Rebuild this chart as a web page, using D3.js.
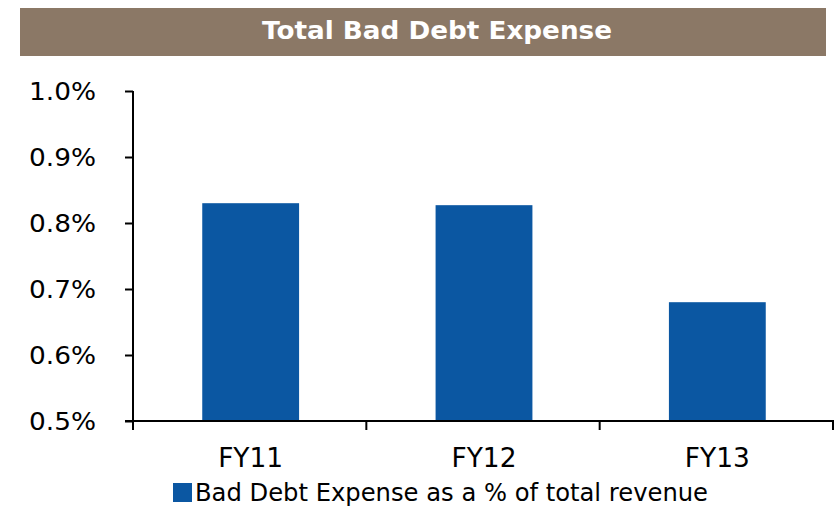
<!DOCTYPE html>
<html>
<head>
<meta charset="utf-8">
<script src="https://cdn.jsdelivr.net/npm/d3@7"></script>
<style>
  html, body { margin: 0; padding: 0; background: #fff; }
  svg { display: block; font-family: "DejaVu Sans", Verdana, sans-serif; }
</style>
</head>
<body>
<svg id="chart" width="835" height="506"></svg>
<script>
// Bad debt expense as a share of total revenue, by fiscal year
const categories = ["FY11", "FY12", "FY13"];
const values = [0.830, 0.827, 0.680];
const yTicks = [0.5, 0.6, 0.7, 0.8, 0.9, 1.0];
const title = "Total Bad Debt Expense";
const seriesName = "Bad Debt Expense as a % of total revenue";

const svg = d3.select("#chart");

// Title banner
svg.append("rect")
  .attr("x", 20).attr("y", 8).attr("width", 806).attr("height", 48)
  .attr("fill", "#8b7866");
svg.append("text")
  .attr("x", 437).attr("y", 39)
  .attr("text-anchor", "middle")
  .attr("fill", "#fff").attr("font-weight", "bold").attr("font-size", 24)
  .attr("textLength", 350).attr("lengthAdjust", "spacingAndGlyphs")
  .text(title);

const plot = { left: 133, right: 833, top: 91, bottom: 421 };

const x = d3.scaleBand().domain(categories)
  .range([plot.left, plot.right]).paddingInner(0.585).paddingOuter(0.2925);
const y = d3.scaleLinear().domain([0.5, 1.0]).range([plot.bottom, plot.top]);

// Bars
svg.append("g").selectAll("rect").data(categories).join("rect")
  .attr("x", d => x(d) + 1)
  .attr("width", x.bandwidth())
  .attr("y", (d, i) => y(values[i]))
  .attr("height", (d, i) => y(0.5) - y(values[i]))
  .attr("fill", "#0b57a2");

// Y axis
const yAxis = svg.append("g")
  .attr("transform", `translate(${plot.left},0)`)
  .call(d3.axisLeft(y).tickValues(yTicks).tickSize(8).tickPadding(29)
    .tickFormat(d => d.toFixed(1) + "%"));
yAxis.select(".domain").attr("d", `M0,${plot.top}V${plot.bottom + 8}`);
yAxis.selectAll("text")
  .attr("font-size", 25).attr("fill", "#000")
  .attr("font-family", "DejaVu Sans, Verdana, sans-serif")
  .attr("dy", null).attr("y", 8)
  .attr("textLength", 67).attr("lengthAdjust", "spacingAndGlyphs");
yAxis.selectAll("line, path").attr("stroke", "#000").attr("stroke-width", 2);

// X axis with boundary ticks between categories
const step = x.step();
const boundaries = d3.range(categories.length + 1).map(i => plot.left + i * step);
const xg = svg.append("g");
xg.append("line")
  .attr("x1", plot.left - 8).attr("x2", plot.right + 1)
  .attr("y1", plot.bottom).attr("y2", plot.bottom)
  .attr("stroke", "#000").attr("stroke-width", 2);
xg.selectAll("line.tick").data(boundaries).join("line")
  .attr("class", "tick")
  .attr("x1", d => d).attr("x2", d => d)
  .attr("y1", plot.bottom).attr("y2", plot.bottom + 9)
  .attr("stroke", "#000").attr("stroke-width", 2);
xg.selectAll("text").data(categories).join("text")
  .attr("x", d => x(d) + x.bandwidth() / 2 + 1)
  .attr("y", 467)
  .attr("text-anchor", "middle")
  .attr("font-size", 26).attr("fill", "#000")
  .attr("textLength", 65).attr("lengthAdjust", "spacingAndGlyphs")
  .text(d => d);

// Legend
svg.append("rect")
  .attr("x", 173).attr("y", 483).attr("width", 19).attr("height", 19)
  .attr("fill", "#0b57a2");
svg.append("text")
  .attr("x", 195).attr("y", 501)
  .attr("font-size", 24).attr("fill", "#000")
  .attr("textLength", 513).attr("lengthAdjust", "spacingAndGlyphs")
  .text(seriesName);
</script>
</body>
</html>
